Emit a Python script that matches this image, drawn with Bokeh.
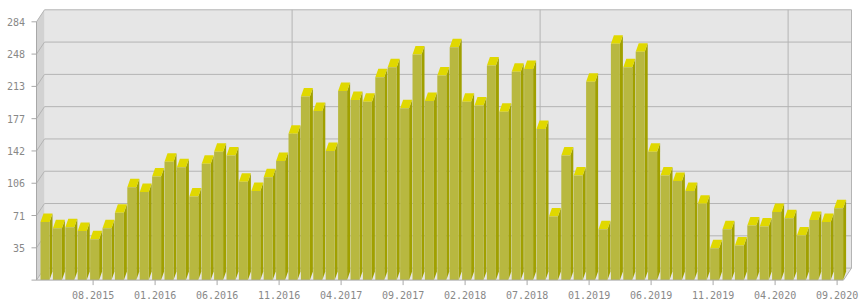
from bokeh.plotting import figure
from bokeh.models import Range1d, ColumnDataSource
from bokeh.core.properties import value
from bokeh.embed import file_html
from bokeh.resources import INLINE

# ---- data -------------------------------------------------------------
values = [64, 57, 58, 54, 45, 57, 74, 102, 97, 114, 130, 124, 92, 128, 141, 137, 108, 98, 113, 131,
          161, 202, 186, 142, 208, 198, 196, 223, 234, 189, 248, 197, 225, 256, 196, 192, 236, 185, 229, 232,
          166, 70, 137, 115, 218, 56, 260, 234, 251, 141, 115, 109, 98, 84, 35, 56, 38, 60, 59, 75, 68, 49, 66, 64, 79]
tick_labels = ["08.2015", "01.2016", "06.2016", "11.2016", "04.2017", "09.2017", "02.2018",
               "07.2018", "01.2019", "06.2019", "11.2019", "04.2020", "09.2020"]
first_tick = 4
tick_every = 5
grid_every = 20
first_grid = 19
y_ticks = [0, 35.5, 71, 106.5, 142, 177.5, 213, 248.5, 284]
y_labels = ["", "35", "71", "106", "142", "177", "213", "248", "284"]
y_max = 284

# ---- layout constants (pixels) ---------------------------------------
W, H = 860, 300
PX_X = 12.4       # px per bar slot
X0_PX = 43.0      # px of first category tick
PX_Y = 0.9095     # px per value unit
Y0_PX = 20.4      # px of value 0 from bottom


def px(d):
    return d / PX_X


def py(d):
    return d / PX_Y


n = len(values)
p = figure(width=W, height=H, output_backend="svg", toolbar_location=None,
           x_range=Range1d((0 - X0_PX) / PX_X, (W - X0_PX) / PX_X),
           y_range=Range1d(-Y0_PX / PX_Y, (H - Y0_PX) / PX_Y),
           x_axis_type=None, y_axis_type=None, min_border=0)
p.outline_line_color = None
p.grid.visible = False
p.background_fill_color = "white"
p.border_fill_color = "white"

left = px(-7)
right = (n - 1) + px(6.4)
wdx, wdy = px(8), py(12)
bdx, bdy = px(3), py(8.5)

WALL = "#e6e6e6"
SIDE_WALL = "#d2d2d2"
GRID = "#b4b4b4"
AXIS = "#a8a8a8"
TXT = "#888888"

# walls
p.patch([left + wdx, right + wdx, right + wdx, left + wdx],
        [wdy, wdy, y_max + wdy, y_max + wdy], fill_color=WALL, line_color=None)
p.patch([left, right, right + wdx, left + wdx], [0, 0, wdy, wdy], fill_color=WALL, line_color=None)
p.patch([left, left + wdx, left + wdx, left], [0, wdy, y_max + wdy, y_max],
        fill_color=SIDE_WALL, line_color=None)

# horizontal grid on back wall + diagonals on the side wall
p.segment(x0=[left + wdx] * len(y_ticks), y0=[t + wdy for t in y_ticks],
          x1=[right + wdx] * len(y_ticks), y1=[t + wdy for t in y_ticks],
          line_color=GRID, line_width=1)
p.segment(x0=[left] * len(y_ticks), y0=y_ticks,
          x1=[left + wdx] * len(y_ticks), y1=[t + wdy for t in y_ticks],
          line_color=GRID, line_width=1)
# vertical grid on back wall
gidx = list(range(first_grid, n, grid_every))
p.segment(x0=[g + wdx + px(5) for g in gidx], y0=[wdy] * len(gidx),
          x1=[g + wdx + px(5) for g in gidx], y1=[y_max + wdy] * len(gidx),
          line_color=GRID, line_width=1)
# right edge of back wall and floor
p.line([right, right + wdx, right + wdx], [0, wdy, y_max + wdy], line_color=GRID)

# bars
xs_side, ys_side, xs_top, ys_top = [], [], [], []
lefts, rights = [], []
for i, v in enumerate(values):
    l, r = i + px(-3), i + px(6)
    lefts.append(l)
    rights.append(r)
    xs_side.append([r, r + bdx, r + bdx, r])
    ys_side.append([0, bdy, v + bdy, v])
    xs_top.append([l, l + bdx, r + bdx, r])
    ys_top.append([v, v + bdy, v + bdy, v])
p.patches(xs_side, ys_side, fill_color="#a0a000", line_color=None)
p.patches(xs_top, ys_top, fill_color="#e0d800", line_color=None)
p.quad(left=lefts, right=rights, bottom=[0] * n, top=values, fill_color="#b8b840", line_color=None)

# axes
p.line([left, right], [0, 0], line_color=AXIS)
p.line([left, left], [0, y_max], line_color=AXIS)
p.segment(x0=[left - px(5)] * len(y_ticks), y0=y_ticks, x1=[left] * len(y_ticks), y1=y_ticks,
          line_color=AXIS)
tidx = [first_tick + k * tick_every for k in range(len(tick_labels))]
p.segment(x0=tidx, y0=[0] * len(tidx), x1=tidx, y1=[py(-5)] * len(tidx), line_color=AXIS)

p.text(x=[left - px(11.5)] * len(y_ticks), y=y_ticks, text=y_labels,
       text_font=value("DejaVu Sans Mono"), text_font_size="10px", text_color=TXT,
       text_align="right", text_baseline="middle")
p.text(x=tidx, y=[py(-14.6)] * len(tidx), text=tick_labels,
       text_font=value("DejaVu Sans Mono"), text_font_size="10px", text_color=TXT,
       text_align="center", text_baseline="middle")

open("out.html", "w").write(file_html(p, INLINE))
